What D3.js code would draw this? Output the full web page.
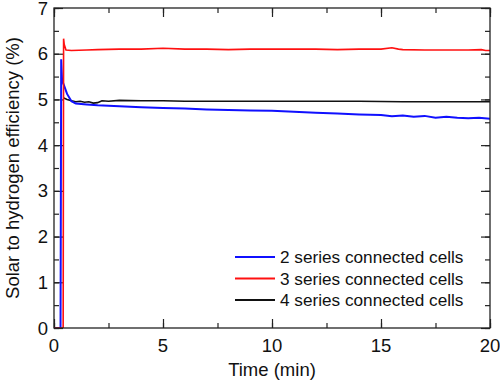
<!DOCTYPE html>
<html>
<head>
<meta charset="utf-8">
<script src="https://cdn.jsdelivr.net/npm/d3@7"></script>
<style>
  body { margin: 0; background: #fff; }
  text { font-family: "Liberation Sans", Arial, sans-serif; fill: #111; }
</style>
</head>
<body>
<div id="chart"></div>
<script>
'use strict';

// values (time in min, efficiency in %)
const series2Time = [0, 0.3, 0.33, 0.37, 0.45, 0.6, 0.8, 1.0, 1.5, 2, 3, 4, 5, 6, 7, 8, 9, 10, 11, 12, 13, 14, 15, 15.5, 16, 16.5, 17, 17.5, 18, 18.5, 19, 19.5, 20];
const series2Eff  = [0, 0, 5.88, 5.42, 5.32, 5.12, 4.96, 4.91, 4.89, 4.87, 4.85, 4.83, 4.81, 4.8, 4.78, 4.77, 4.76, 4.75, 4.73, 4.71, 4.69, 4.67, 4.66, 4.63, 4.65, 4.62, 4.64, 4.6, 4.62, 4.6, 4.59, 4.6, 4.58];

const series3Time = [0, 0.42, 0.44, 0.47, 0.55, 0.8, 1.5, 2, 3, 4, 5, 6, 7, 8, 9, 10, 11, 12, 13, 14, 15, 15.5, 15.8, 16, 17, 18, 19, 19.6, 19.8, 20];
const series3Eff  = [0, 0, 6.33, 6.2, 6.08, 6.07, 6.08, 6.09, 6.1, 6.1, 6.12, 6.1, 6.1, 6.09, 6.1, 6.1, 6.1, 6.1, 6.09, 6.1, 6.1, 6.13, 6.1, 6.09, 6.08, 6.08, 6.08, 6.09, 6.07, 6.07];

const series4Time = [0.45, 0.6, 0.8, 1.0, 1.2, 1.4, 1.6, 1.8, 2.0, 2.2, 2.5, 3, 4, 5, 6, 8, 10, 12, 14, 16, 18, 20];
const series4Eff  = [5.03, 5.0, 4.97, 4.95, 4.96, 4.94, 4.95, 4.92, 4.93, 4.97, 4.96, 4.98, 4.97, 4.97, 4.96, 4.96, 4.96, 4.96, 4.96, 4.95, 4.95, 4.95];

const seriesNames  = ['2 series connected cells', '3 series connected cells', '4 series connected cells'];
const seriesColors = ['#1010ff', '#ff1010', '#111111'];

const xTicks = [0, 5, 10, 15, 20];
const yTicks = [0, 1, 2, 3, 4, 5, 6, 7];

const width = 500, height = 384;
const margin = {top: 8, right: 10, bottom: 56, left: 54};

const svg = d3.select('#chart').append('svg')
    .attr('width', width)
    .attr('height', height);

const x = d3.scaleLinear().domain([0, 20]).range([margin.left, width - margin.right]);
const y = d3.scaleLinear().domain([0, 7]).range([height - margin.bottom, margin.top]);

// inward ticks on all four sides
const xMinor = d3.range(0, 20.01, 2.5);
const yMinor = d3.range(0, 7.01, 0.5);

function tickAxis(axis, ticks, size) {
    return axis.tickValues(ticks).tickSize(size).tickFormat('');
}

svg.append('g')
    .attr('transform', 'translate(0,' + y(0) + ')')
    .call(tickAxis(d3.axisTop(x), xMinor, 5));
svg.append('g')
    .attr('transform', 'translate(0,' + y(0) + ')')
    .call(tickAxis(d3.axisTop(x), xTicks, 9));
svg.append('g')
    .attr('transform', 'translate(0,' + y(7) + ')')
    .call(tickAxis(d3.axisBottom(x), xMinor, 5));
svg.append('g')
    .attr('transform', 'translate(0,' + y(7) + ')')
    .call(tickAxis(d3.axisBottom(x), xTicks, 9));
svg.append('g')
    .attr('transform', 'translate(' + x(0) + ',0)')
    .call(tickAxis(d3.axisRight(y), yMinor, 5));
svg.append('g')
    .attr('transform', 'translate(' + x(0) + ',0)')
    .call(tickAxis(d3.axisRight(y), yTicks, 9));
svg.append('g')
    .attr('transform', 'translate(' + x(20) + ',0)')
    .call(tickAxis(d3.axisLeft(y), yMinor, 5));
svg.append('g')
    .attr('transform', 'translate(' + x(20) + ',0)')
    .call(tickAxis(d3.axisLeft(y), yTicks, 9));

svg.selectAll('.domain').remove();
svg.selectAll('.tick line').attr('stroke', '#222').attr('stroke-width', 1.2);

// tick labels
svg.append('g').selectAll('text')
    .data(xTicks).enter().append('text')
    .attr('x', d => x(d))
    .attr('y', y(0) + 24)
    .attr('text-anchor', 'middle')
    .style('font-size', '18.5px')
    .text(d => d);

svg.append('g').selectAll('text')
    .data(yTicks).enter().append('text')
    .attr('x', x(0) - 6)
    .attr('y', d => y(d) + 6.5)
    .attr('text-anchor', 'end')
    .style('font-size', '18.5px')
    .text(d => d);

// axis titles
svg.append('text')
    .attr('x', (x(0) + x(20)) / 2)
    .attr('y', height - 8)
    .attr('text-anchor', 'middle')
    .style('font-size', '18.5px')
    .text('Time (min)');

svg.append('text')
    .attr('transform', 'translate(19,' + (y(0) + y(7)) / 2 + ') rotate(-90)')
    .attr('text-anchor', 'middle')
    .style('font-size', '18.5px')
    .text('Solar to hydrogen efficiency (%)');

// lines
svg.append('clipPath').attr('id', 'plot')
    .append('rect')
    .attr('x', x(0)).attr('y', y(7) - 2)
    .attr('width', x(20) - x(0)).attr('height', y(0) - y(7) + 2);

const line = d3.line().x(d => x(d[0])).y(d => y(d[1]));

const allSeries = [
    d3.zip(series2Time, series2Eff),
    d3.zip(series3Time, series3Eff),
    d3.zip(series4Time, series4Eff)
];

// draw order: black, blue on top of it, red last
[2, 0, 1].forEach(i => {
    svg.append('path')
        .datum(allSeries[i])
        .attr('clip-path', 'url(#plot)')
        .attr('fill', 'none')
        .attr('stroke', seriesColors[i])
        .attr('stroke-width', i === 0 ? 2 : 1.6)
        .attr('d', line);
});

// frame
svg.append('rect')
    .attr('x', x(0)).attr('y', y(7))
    .attr('width', x(20) - x(0)).attr('height', y(0) - y(7))
    .attr('fill', 'none')
    .attr('stroke', '#222')
    .attr('stroke-width', 1.3);

// legend
const legend = svg.append('g')
    .attr('transform', 'translate(235,257)');

seriesNames.forEach((name, i) => {
    let row = legend.append('g').attr('transform', 'translate(0,' + i * 21.5 + ')');
    row.append('line')
        .attr('x1', 0).attr('x2', 40)
        .attr('stroke', seriesColors[i])
        .attr('stroke-width', 1.8);
    row.append('text')
        .attr('x', 45)
        .attr('y', 6)
        .style('font-size', '17.2px')
        .text(name);
});
</script>
</body>
</html>
